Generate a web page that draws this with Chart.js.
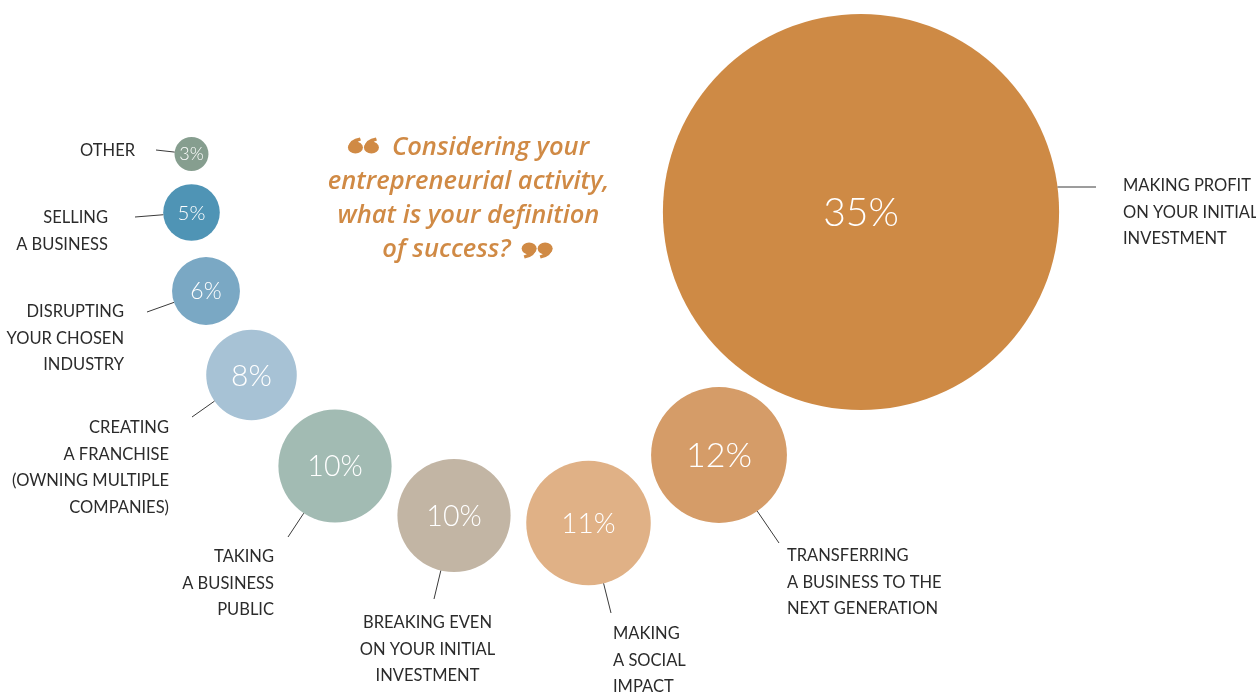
<!DOCTYPE html>
<html>
<head>
<meta charset="utf-8">
<script src="https://cdn.jsdelivr.net/npm/chart.js@4"></script>
<style>
  html, body { margin: 0; padding: 0; background: #fff; }
  canvas { display: block; }
</style>
</head>
<body>
<canvas id="success" width="1256" height="695"></canvas>
<script>
// Answers to "what is your definition of success?" (share of respondents, %)
const categories = [
  ['OTHER'],
  ['SELLING', 'A BUSINESS'],
  ['DISRUPTING', 'YOUR CHOSEN', 'INDUSTRY'],
  ['CREATING', 'A FRANCHISE', '(OWNING MULTIPLE', 'COMPANIES)'],
  ['TAKING', 'A BUSINESS', 'PUBLIC'],
  ['BREAKING EVEN', 'ON YOUR INITIAL', 'INVESTMENT'],
  ['MAKING', 'A SOCIAL', 'IMPACT'],
  ['TRANSFERRING', 'A BUSINESS TO THE', 'NEXT GENERATION'],
  ['MAKING PROFIT', 'ON YOUR INITIAL', 'INVESTMENT']
];
const shares = [3, 5, 6, 8, 10, 10, 11, 12, 35];

// bubble centres along the spiral (scale units = page pixels)
const bubbleX = [191.5, 191.5, 206, 251.5, 335, 454, 588.5, 719, 861];
const bubbleY = [154, 212.5, 291, 375, 466, 515.5, 523, 455, 212];

const colors = ['#869e8f', '#4f94b5', '#7aa8c4', '#a7c2d5', '#a2bbb3', '#c2b5a4', '#e0b186', '#d59c68', '#ce8a45'];
const pctFont = [18, 20.5, 23, 30, 28.5, 28.5, 28, 34, 39];

// label block: first baseline, alignment, and the outer tip of the leader line
const callouts = [
  { x: 135, y: 156, align: 'right', tipX: 156, tipY: 150 },
  { x: 108, y: 223, align: 'right', tipX: 135, tipY: 217 },
  { x: 124, y: 317, align: 'right', tipX: 147, tipY: 312 },
  { x: 169, y: 433, align: 'right', tipX: 192, tipY: 417 },
  { x: 274, y: 562, align: 'right', tipX: 288, tipY: 537 },
  { x: 427.5, y: 628, align: 'center', tipX: 434, tipY: 599 },
  { x: 613, y: 639, align: 'left', tipX: 611, tipY: 613 },
  { x: 787, y: 561, align: 'left', tipX: 779, tipY: 543 },
  { x: 1123, y: 191, align: 'left', tipX: 1096, tipY: 187, flat: true }
];

const question = ['Considering your', 'entrepreneurial activity,', 'what is your definition', 'of success?'];

const RADIUS_PER_POINT = 5.66;
const LABEL_FONT = '16.5px Lato, "Open Sans", sans-serif';
const LINE_GAP = 26.5;

// heavy double quote mark made of two comma-like drops
function drawQuoteMark(ctx, x, y, closing) {
  ctx.save();
  ctx.translate(x, y);
  if (closing) ctx.rotate(Math.PI);
  [0, 16].forEach(dx => {
    ctx.beginPath();
    ctx.ellipse(dx + 7.5, 2.5, 7.5, 6, 0, 0, Math.PI * 2);
    ctx.fill();
    ctx.beginPath();
    ctx.moveTo(dx + 0.2, 2.5);
    ctx.quadraticCurveTo(dx + 1.5, -6, dx + 12, -7.5);
    ctx.lineTo(dx + 13, -4.5);
    ctx.quadraticCurveTo(dx + 7, -3, dx + 7, 2.5);
    ctx.closePath();
    ctx.fill();
  });
  ctx.restore();
}

const calloutPlugin = {
  id: 'callouts',
  afterDatasetsDraw(chart) {
    const ctx = chart.ctx;
    const meta = chart.getDatasetMeta(0);
    ctx.save();
    meta.data.forEach((pt, i) => {
      const r = shares[i] * RADIUS_PER_POINT;
      const c = callouts[i];

      // value inside the bubble
      ctx.fillStyle = '#ffffff';
      ctx.font = `300 ${pctFont[i]}px Lato, "Open Sans", sans-serif`;
      ctx.textAlign = 'center';
      ctx.textBaseline = 'alphabetic';
      ctx.fillText(shares[i] + '%', pt.x, pt.y + pctFont[i] * 0.36);

      // leader line from the bubble edge
      let sx, sy;
      if (c.flat) {
        sy = c.tipY;
        sx = pt.x + Math.sqrt(r * r - (sy - pt.y) ** 2);
      } else {
        const a = Math.atan2(c.tipY - pt.y, c.tipX - pt.x);
        sx = pt.x + Math.cos(a) * r;
        sy = pt.y + Math.sin(a) * r;
      }
      ctx.strokeStyle = '#3a3a3a';
      ctx.lineWidth = 1;
      ctx.beginPath();
      ctx.moveTo(sx, sy);
      ctx.lineTo(c.tipX, c.tipY);
      ctx.stroke();

      // category label
      ctx.fillStyle = '#2b2b2b';
      ctx.font = LABEL_FONT;
      ctx.textAlign = c.align;
      categories[i].forEach((line, k) => {
        ctx.fillText(line, c.x, c.y + k * LINE_GAP);
      });
    });

    // the survey question, wrapped in quote marks
    ctx.fillStyle = '#d08a45';
    ctx.font = 'italic 600 25.5px "Open Sans", sans-serif';
    ctx.textAlign = 'center';
    const cx = 468.5;
    question.forEach((line, k) => {
      const y = 155 + k * 34;
      const w = ctx.measureText(line).width;
      if (k === 0) {
        ctx.fillText(line, cx + 22, y);
        drawQuoteMark(ctx, cx + 22 - w / 2 - 44, y - 10, false);
      } else if (k === question.length - 1) {
        ctx.fillText(line, cx - 22, y);
        drawQuoteMark(ctx, cx - 22 + w / 2 + 42, y - 6, true);
      } else {
        ctx.fillText(line, cx, y);
      }
    });
    ctx.restore();
  }
};

new Chart(document.getElementById('success'), {
  type: 'bubble',
  data: {
    datasets: [{
      label: 'Definition of success',
      data: shares.map((v, i) => ({ x: bubbleX[i], y: bubbleY[i], r: v * RADIUS_PER_POINT })),
      backgroundColor: colors,
      borderWidth: 0,
      hoverRadius: 0,
      clip: false
    }]
  },
  options: {
    responsive: false,
    animation: false,
    layout: { padding: 0, autoPadding: false },
    events: [],
    scales: {
      x: { type: 'linear', min: 0, max: 1256, display: false },
      y: { type: 'linear', min: 0, max: 695, reverse: true, display: false }
    },
    plugins: {
      legend: { display: false },
      tooltip: { enabled: false }
    }
  },
  plugins: [calloutPlugin]
});
</script>
</body>
</html>
